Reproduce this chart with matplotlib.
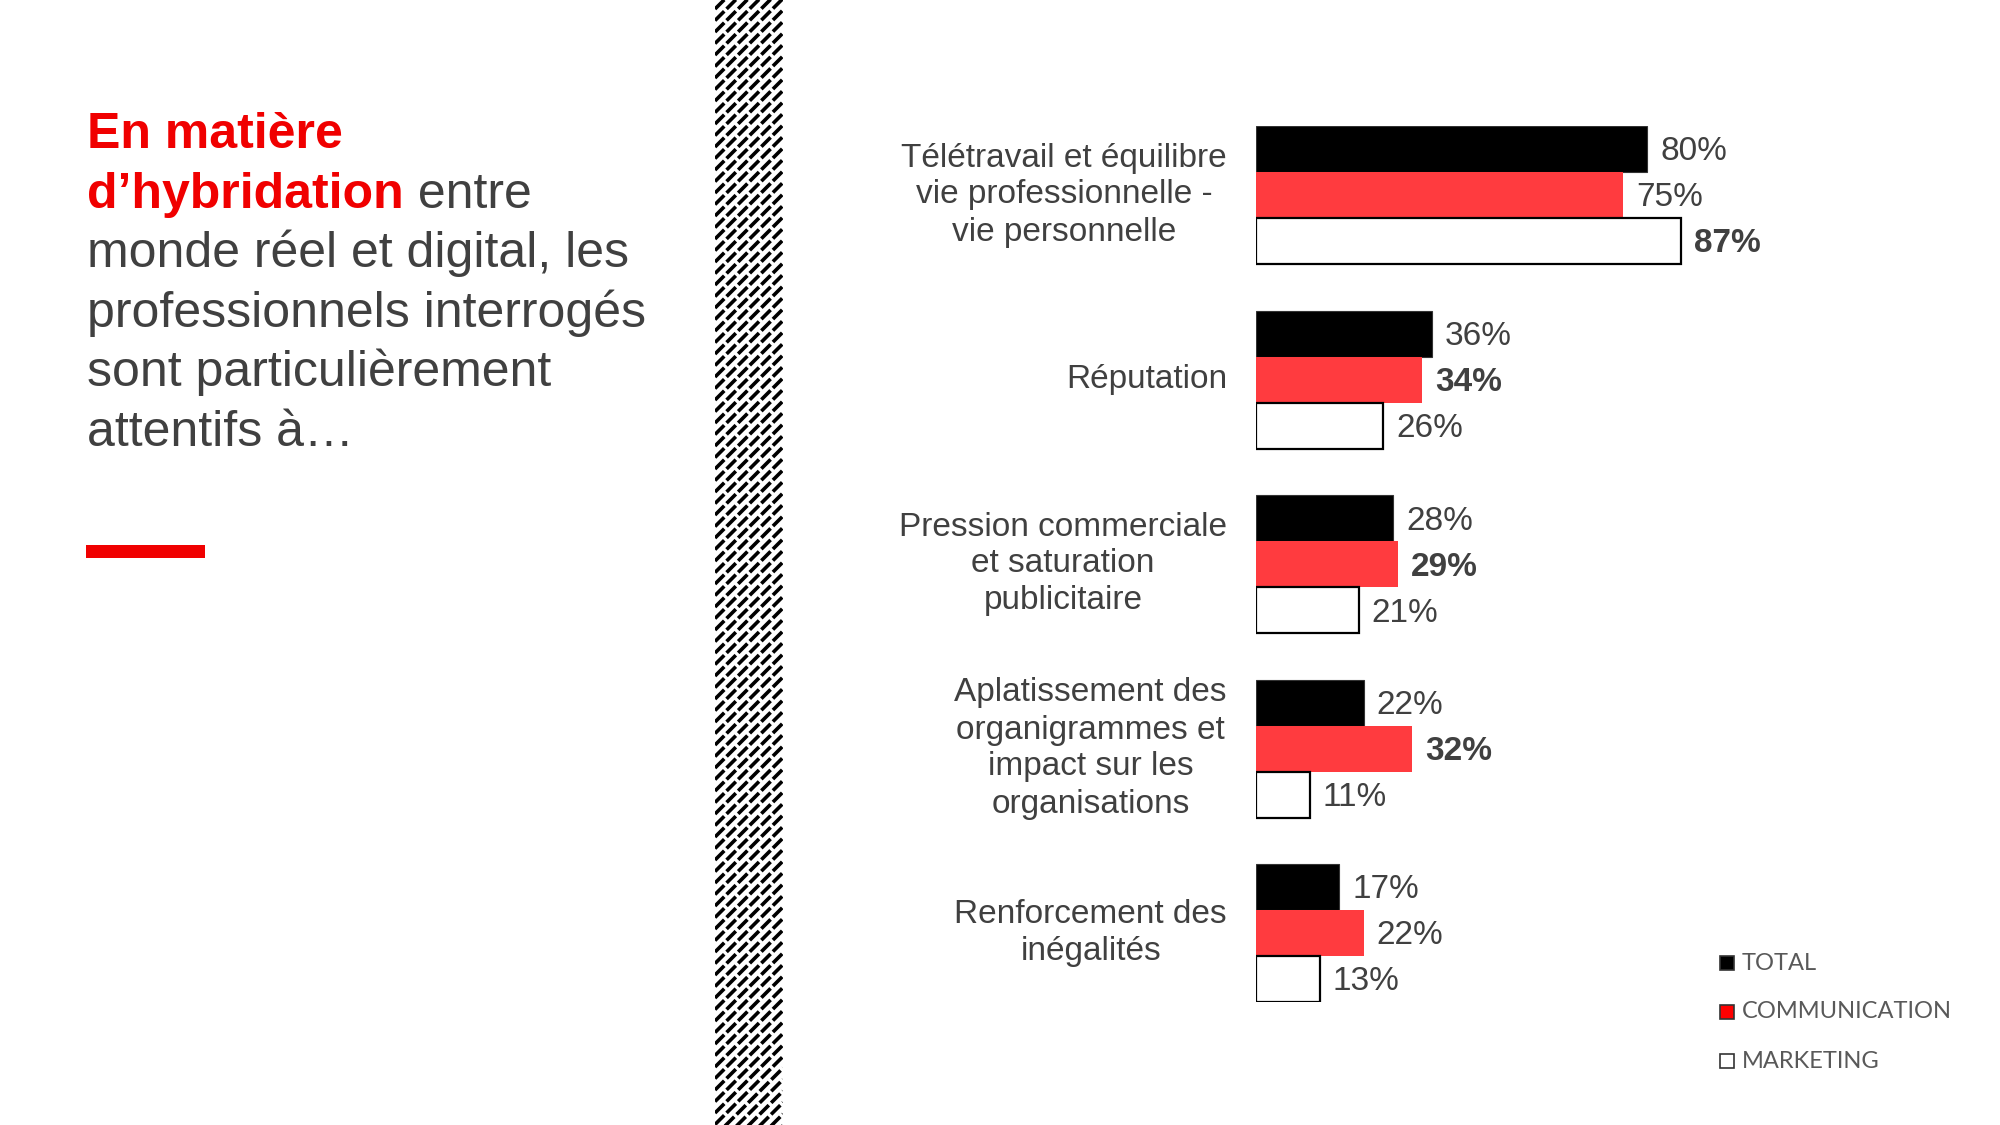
import numpy as np
import matplotlib
matplotlib.use("Agg")
import matplotlib.pyplot as plt
from matplotlib.patches import Rectangle

plt.rcParams['font.family'] = ['Liberation Sans', 'DejaVu Sans']
plt.rcParams['lines.scale_dashes'] = False

# data
categories = [
    "Télétravail et équilibre\nvie professionnelle -\nvie personnelle",
    "Réputation",
    "Pression commerciale\net saturation\npublicitaire",
    "Aplatissement des\norganigrammes et\nimpact sur les\norganisations",
    "Renforcement des\ninégalités",
]
total = [80, 36, 28, 22, 17]
communication = [75, 34, 29, 32, 22]
marketing = [87, 26, 21, 11, 13]
bold_total = [False, False, False, False, False]
bold_comm = [False, True, True, True, False]
bold_mkt = [True, False, False, False, False]
series_names = ["TOTAL", "COMMUNICATION", "MARKETING"]

RED = '#FF3B3F'
TITLE_RED = '#F00000'
GREY = '#404040'

W, H = 2000, 1125
fig = plt.figure(figsize=(20, 11.25), dpi=100)


def fx(px):
    return px / W


def fy(py):
    return 1 - py / H


# left text block
x0 = 87
base = 148
step = 59.6
t1 = fig.text(fx(x0), fy(base), "En matière", fontsize=36, fontweight='bold',
              color=TITLE_RED, va='baseline')
t2 = fig.text(fx(x0), fy(base + step), "d’hybridation", fontsize=36, fontweight='bold',
              color=TITLE_RED, va='baseline')
entre = fig.text(0, 0, " entre", fontsize=36, color=GREY, va='baseline')
rest = ["monde réel et digital, les", "professionnels interrogés",
        "sont particulièrement", "attentifs à…"]
for k, line in enumerate(rest):
    fig.text(fx(x0), fy(base + step * (k + 2)), line, fontsize=36, color=GREY,
             va='baseline')

# red underline
fig.add_artist(Rectangle((fx(86), fy(558)), fx(119), 13 / H, transform=fig.transFigure,
                         color=TITLE_RED, lw=0))

# hatched stripe
sax = fig.add_axes([fx(715), 0, fx(68), 1])
sax.set_xlim(0, 68)
sax.set_ylim(0, H)
sax.axis('off')
for c in np.arange(-80, H + 12, 11.5):
    sax.plot([0, 68], [c, c + 68], color='black', lw=2.6,
             linestyle=(0, (9.4, 2.4)), solid_capstyle='butt', dash_capstyle='butt')

# bar chart
grp = 184.5
bh = 46
top = 126
hgt = 4 * grp + 3 * bh
ax = fig.add_axes([fx(1256), fy(top + hgt), fx(489), hgt / H])
h = bh / grp
y = np.arange(len(categories))
ax.barh(y - h, total, height=h, color='black', edgecolor='#333333', lw=0.8)
ax.barh(y, communication, height=h, color=RED, lw=0)
ax.barh(y + h, marketing, height=h, color='white', edgecolor='black', lw=1.6)
ax.set_xlim(0, 100)
ax.set_ylim(len(categories) - 1 + 1.5 * h, -1.5 * h)
ax.axis('off')

for vals, bolds, off in [(total, bold_total, -h), (communication, bold_comm, 0),
                         (marketing, bold_mkt, h)]:
    for i, (v, b) in enumerate(zip(vals, bolds)):
        ax.annotate(f"{v}%", xy=(v, i + off), xytext=(13, -3), textcoords='offset pixels',
                    ha='left', va='center', fontsize=24, color=GREY,
                    fontweight='bold' if b else 'normal', annotation_clip=False)

for i, cat in enumerate(categories):
    ax.annotate(cat, xy=(0, i), xytext=(-29, 0), textcoords='offset pixels',
                ha='right', va='center', multialignment='center', fontsize=24,
                color=GREY, linespacing=1.25, annotation_clip=False)

# legend
leg_colors = ['black', '#FF0000', 'white']
for k, (name, col) in enumerate(zip(series_names, leg_colors)):
    cy = 963 + k * 49
    fig.add_artist(Rectangle((fx(1720), fy(cy + 7)), fx(14), 14 / H,
                             transform=fig.transFigure, facecolor=col,
                             edgecolor='#333333', lw=1.2))
    fig.text(fx(1742), fy(cy), name, fontsize=17, color='#595959', va='center',
             family=['Lato', 'DejaVu Sans'])

fig.canvas.draw()
# place " entre" right after the bold red word
bb = t2.get_window_extent()
entre.set_transform(matplotlib.transforms.IdentityTransform())
entre.set_position((bb.x1, fig.bbox.height * fy(base + step)))

fig.savefig("out.png", dpi=100, facecolor='white')
